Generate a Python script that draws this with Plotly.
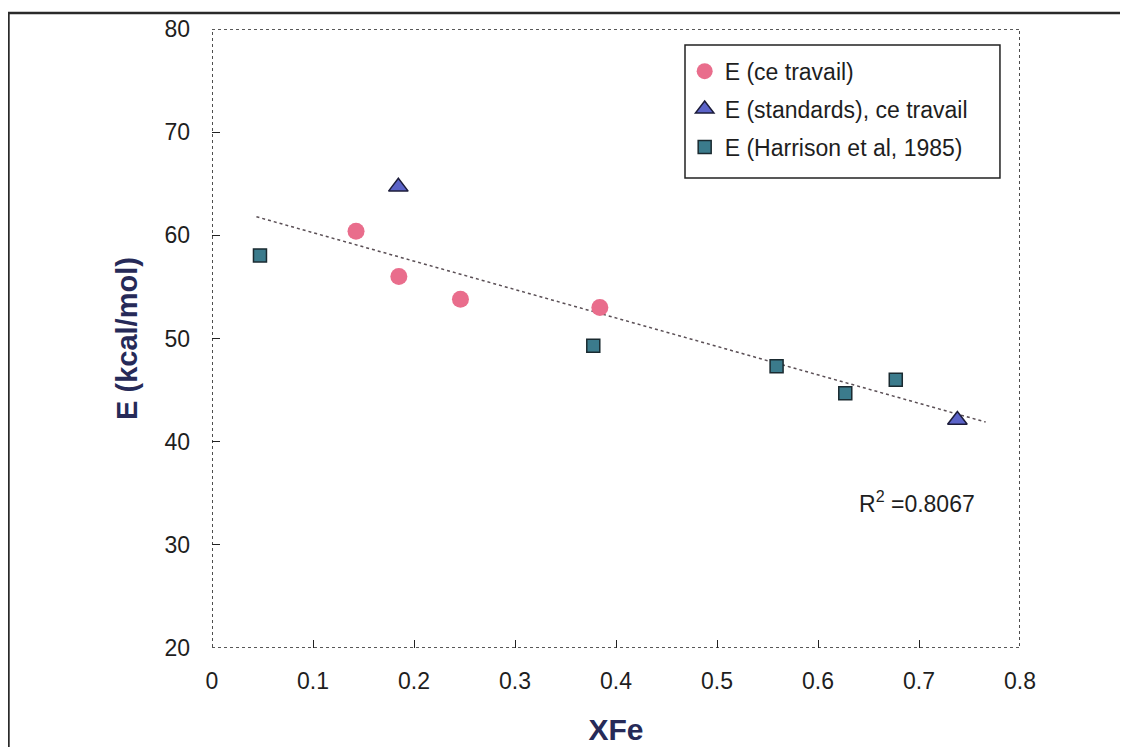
import plotly.graph_objects as go

# ---- data ----
ce_travail_x = [0.1426, 0.185, 0.246, 0.384]
ce_travail_y = [60.4, 56.0, 53.8, 53.0]

standards_x = [0.1845, 0.738]
standards_y = [64.7, 42.1]

harrison_x = [0.0475, 0.3775, 0.559, 0.627, 0.677]
harrison_y = [58.05, 49.3, 47.3, 44.7, 46.0]

trend_x = [0.044, 0.766]
trend_y = [61.8, 41.9]

r2_text = "R<sup>2</sup> =0.8067"

x_ticks = [0, 0.1, 0.2, 0.3, 0.4, 0.5, 0.6, 0.7, 0.8]
x_tick_labels = ["0", "0.1", "0.2", "0.3", "0.4", "0.5", "0.6", "0.7", "0.8"]
y_ticks = [20, 30, 40, 50, 60, 70, 80]

FONT = "Liberation Sans, Arial, Helvetica, sans-serif"
TXT = "#1e1e1e"
TITLE_C = "#262a58"

fig = go.Figure()

fig.add_trace(go.Scatter(
    x=trend_x, y=trend_y, mode="lines", showlegend=False,
    line=dict(color="#5a4f55", width=1.5, dash="dot"), hoverinfo="skip"))

fig.add_trace(go.Scatter(
    x=ce_travail_x, y=ce_travail_y, mode="markers", name="E (ce travail)",
    legendgroup="a",
    marker=dict(symbol="circle", size=17, color="#e96d8c", line=dict(width=0))))

fig.add_trace(go.Scatter(
    x=standards_x, y=standards_y, mode="markers", name="E (standards), ce travail",
    legendgroup="b",
    marker=dict(symbol="triangle-up", size=17, color="#5b63c8",
                line=dict(width=1.5, color="#1c1c3a"))))

fig.add_trace(go.Scatter(
    x=harrison_x, y=harrison_y, mode="markers", name="E (Harrison et al, 1985)",
    legendgroup="c",
    marker=dict(symbol="square", size=13, color="#3b7b8c",
                line=dict(width=1.5, color="#1a2a30"))))

fig.add_annotation(x=0.639, y=34.2, xref="x", yref="y", text=r2_text,
                   showarrow=False, xanchor="left", yanchor="middle",
                   font=dict(family=FONT, size=23, color=TXT))

# dotted plot frame
fig.add_shape(type="rect", xref="x", yref="y", x0=0, x1=0.8, y0=20, y1=80,
              line=dict(color="#222222", width=1.6, dash="dot"), layer="above")

# legend box frame
fig.add_shape(type="rect", xref="paper", yref="paper",
              x0=0.5854, x1=0.9752, y0=0.7593, y1=0.9742,
              line=dict(color="#222222", width=1.5), fillcolor="white", layer="below")

# outer page frame
fig.add_shape(type="rect", xref="paper", yref="paper",
              x0=-0.2519, x1=1.16, y0=-0.2, y1=1.0258,
              line=dict(color="#2a2a2a", width=2.5))

# the page body adds an 8px offset, so the figure is 8px smaller and margins shifted
fig.update_layout(
    width=1120, height=739,
    margin=dict(l=204, r=108, t=21, b=99, autoexpand=False),
    paper_bgcolor="white", plot_bgcolor="white",
    font=dict(family=FONT, color=TXT),
    showlegend=True,
    legend=dict(
        x=0.585, y=0.9665, xanchor="left", yanchor="top",
        bgcolor="rgba(0,0,0,0)", borderwidth=0,
        font=dict(family=FONT, size=23, color=TXT),
        tracegroupgap=5, itemwidth=30,
    ),
    xaxis=dict(
        range=[0, 0.8], tickvals=x_ticks, ticktext=x_tick_labels,
        showgrid=False, zeroline=False, showline=False, automargin=False,
        ticks="inside", ticklen=8, tickwidth=1.2, tickcolor="#222222",
        tickfont=dict(family=FONT, size=23, color=TXT),
        ticklabelstandoff=17,
        title=dict(text="<b>XFe</b>", font=dict(family=FONT, size=30, color=TITLE_C),
                   standoff=25),
    ),
    yaxis=dict(
        range=[20, 80], tickvals=y_ticks,
        showgrid=False, zeroline=False, showline=False, automargin=False,
        ticks="inside", ticklen=8, tickwidth=1.2, tickcolor="#222222",
        tickfont=dict(family=FONT, size=23, color=TXT),
        ticklabelstandoff=21,
        title=dict(text="<b>E (kcal/mol)</b>", font=dict(family=FONT, size=29, color=TITLE_C),
                   standoff=18),
    ),
)

fig.write_html("out.html")
